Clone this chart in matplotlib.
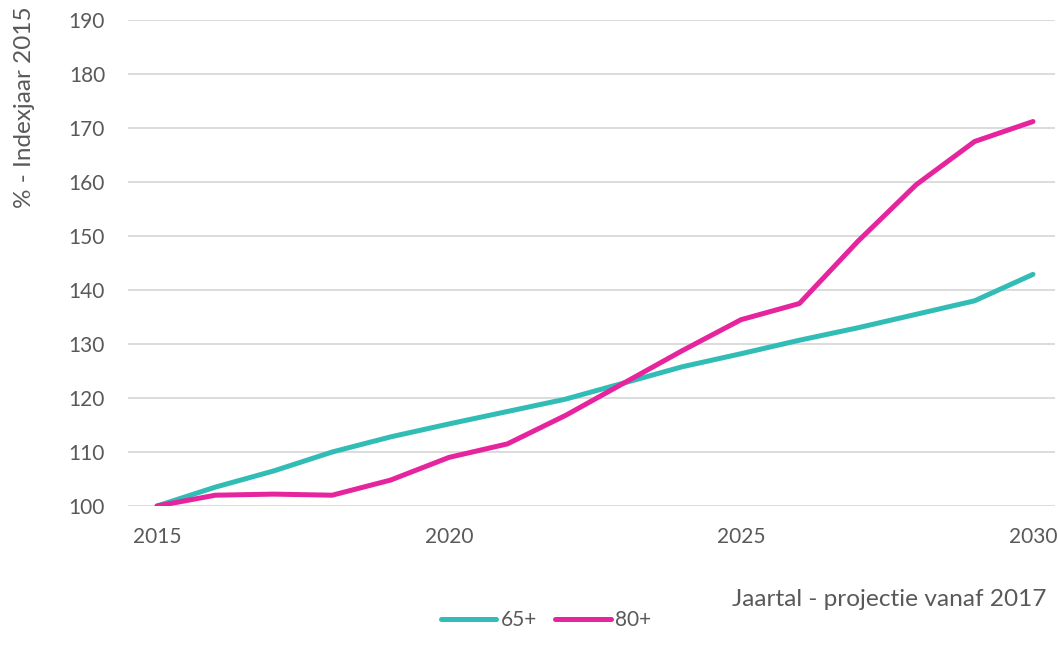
import matplotlib
matplotlib.use("Agg")
import matplotlib.pyplot as plt

years = list(range(2015, 2031))
s65 = [100, 103.5, 106.5, 110, 112.8, 115.2, 117.5, 119.8, 122.8, 125.8, 128.2, 130.7, 133.0, 135.5, 138.0, 142.9]
s80 = [100, 102.0, 102.2, 102.0, 104.8, 109.0, 111.5, 116.8, 122.8, 128.8, 134.5, 137.5, 149.0, 159.5, 167.5, 171.2]
series_names = ["65+", "80+"]
xticks = [2015, 2020, 2025, 2030]
yticks = list(range(100, 200, 10))

plt.rcParams['font.family'] = ['Lato', 'DejaVu Sans']
txt = '#595959'

fig = plt.figure(figsize=(10.58, 6.57), dpi=100)
x0, x1 = 128, 1055
ax = fig.add_axes([x0/1058, 1-506/657, (x1-x0)/1058, (506-20)/657])

ax.plot(years, s65, color='#31BDB5', lw=3.6, solid_capstyle='round', solid_joinstyle='round', label=series_names[0])
ax.plot(years, s80, color='#E6249E', lw=3.6, solid_capstyle='round', solid_joinstyle='round', label=series_names[1])

ppy = (1033 - 157) / 15.0
ax.set_xlim(2015 - (157 - x0)/ppy, 2030 + (x1 - 1033)/ppy)
ax.set_ylim(100, 190)
ax.set_yticks(yticks)
ax.set_xticks(xticks)
ax.grid(axis='y', color='#D9D9D9', lw=1.3)
ax.set_axisbelow(True)
for s in ax.spines.values():
    s.set_visible(False)
ax.tick_params(length=0, labelsize=15, colors=txt)
ax.tick_params(axis='x', pad=15)
ax.tick_params(axis='y', pad=16.5)

fig.text(25/1058, 1-107/657, '% - Indexjaar 2015', rotation=90, ha='center', va='center', fontsize=17.5, color=txt)
fig.text(1046/1058, 1-599/657, 'Jaartal - projectie vanaf 2017', ha='right', va='center', fontsize=17.6, color=txt)

leg = fig.legend(loc='center', bbox_to_anchor=(546/1058, 1-620/657), ncol=2, frameon=False,
                 fontsize=15, handlelength=2.65, handletextpad=0.2, columnspacing=0.9)
for t in leg.get_texts():
    t.set_color(txt)

fig.savefig('out.png', dpi=100)
